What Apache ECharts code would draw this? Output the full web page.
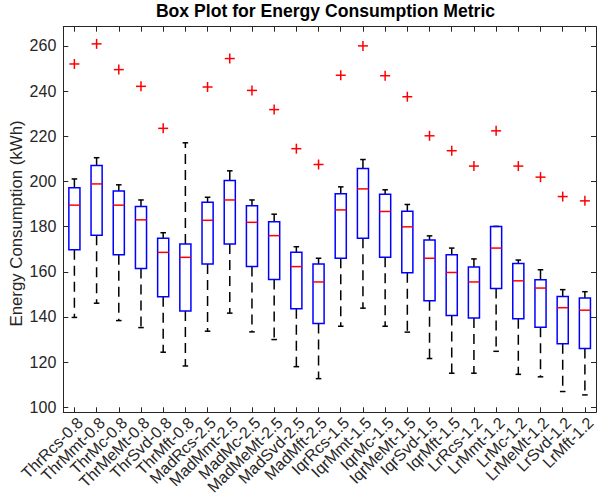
<!DOCTYPE html>
<html><head><meta charset="utf-8">
<script src="https://cdn.jsdelivr.net/npm/echarts@6/dist/echarts.min.js"></script>
<style>html,body{margin:0;padding:0;background:#fff}#c{width:597px;height:499px}</style>
</head><body><div id="c"></div>
<script>
const categories = ['ThrRcs-0.8','ThrMmt-0.8','ThrMc-0.8','ThrMeMt-0.8','ThrSvd-0.8','ThrMft-0.8','MadRcs-2.5','MadMmt-2.5','MadMc-2.5','MadMeMt-2.5','MadSvd-2.5','MadMft-2.5','IqrRcs-1.5','IqrMmt-1.5','IqrMc-1.5','IqrMeMt-1.5','IqrSvd-1.5','IqrMft-1.5','LrRcs-1.2','LrMmt-1.2','LrMc-1.2','LrMeMt-1.2','LrSvd-1.2','LrMft-1.2'];
const lowerWhisker = [139.8,146.1,138.4,135.3,124.4,118.3,133.7,141.7,133.4,130.0,118.0,112.7,135.9,143.9,135.9,133.3,121.6,115.1,115.1,124.8,114.6,113.5,107.0,105.5];
const q1 = [169.8,176.2,167.6,161.5,148.9,142.6,163.4,172.3,162.3,156.6,143.6,137.1,166.0,174.8,166.4,159.6,147.2,140.7,139.6,152.6,139.2,135.5,128.1,126.0];
const median = [189.5,198.9,189.5,183.0,168.6,166.4,182.8,191.8,181.9,176.0,162.3,155.5,187.4,196.7,186.7,179.9,166.0,159.7,155.5,170.5,156.0,152.8,144.1,143.0];
const q3 = [197.2,207.1,195.8,188.9,174.8,172.3,190.8,200.4,189.2,182.2,168.6,163.4,194.5,205.7,194.3,186.8,174.1,167.6,162.1,180.1,163.7,156.5,149.1,148.4];
const upperWhisker = [201.1,210.5,198.5,191.8,177.3,217.1,193.0,204.7,191.8,185.5,171.1,166.0,197.6,209.7,196.3,189.8,175.9,170.5,165.7,180.1,165.2,160.9,152.1,151.2];
const outliers = [252.0,260.9,249.5,242.1,223.5,null,241.8,254.4,240.3,231.8,214.5,207.5,247.0,260.0,246.8,237.5,220.2,213.6,206.8,222.4,206.8,201.9,193.3,191.4];
const yTicks = [100,120,140,160,180,200,220,240,260];

const AX = '#262626';
const FONT = 'Liberation Sans, Arial, Helvetica, sans-serif';
const Y_MIN = 97.8, Y_MAX = 268.5;

const boxData = categories.map((c, i) => [i, lowerWhisker[i], q1[i], median[i], q3[i], upperWhisker[i]]);
const outData = [];
outliers.forEach((v, i) => { if (v !== null) outData.push([i, v]); });

function renderBox(params, api) {
  const i = api.value(0);
  const pLo = api.coord([i, api.value(1)]);
  const pQ1 = api.coord([i, api.value(2)]);
  const pMed = api.coord([i, api.value(3)]);
  const pQ3 = api.coord([i, api.value(4)]);
  const pHi = api.coord([i, api.value(5)]);
  const bw = api.size([1, 0])[0];
  const hb = bw * 0.25, hc = bw * 0.125;
  const x = pLo[0];
  const dash = {stroke: '#000', lineWidth: 1.5, lineDash: [10, 6], fill: null};
  const solid = {stroke: '#000', lineWidth: 1.5, fill: null};
  return {
    type: 'group',
    children: [
      {type: 'line', shape: {x1: x, y1: pQ3[1], x2: x, y2: pHi[1]}, style: dash},
      {type: 'line', shape: {x1: x, y1: pQ1[1], x2: x, y2: pLo[1]}, style: dash},
      {type: 'line', shape: {x1: x - hc, y1: pHi[1], x2: x + hc, y2: pHi[1]}, style: solid},
      {type: 'line', shape: {x1: x - hc, y1: pLo[1], x2: x + hc, y2: pLo[1]}, style: solid},
      {type: 'rect', shape: {x: x - hb, y: pQ3[1], width: 2 * hb, height: pQ1[1] - pQ3[1]}, style: {fill: 'none', stroke: '#0000ff', lineWidth: 1.5}},
      {type: 'line', shape: {x1: x - hb, y1: pMed[1], x2: x + hb, y2: pMed[1]}, style: {stroke: '#ff0000', lineWidth: 1.5}}
    ]
  };
}
function renderOut(params, api) {
  const p = api.coord([api.value(0), api.value(1)]);
  const s = 5;
  const st = {stroke: '#ff0000', lineWidth: 1.5};
  return {
    type: 'group',
    children: [
      {type: 'line', shape: {x1: p[0] - s, y1: p[1], x2: p[0] + s, y2: p[1]}, style: st},
      {type: 'line', shape: {x1: p[0], y1: p[1] - s, x2: p[0], y2: p[1] + s}, style: st}
    ]
  };
}

const chart = echarts.init(document.getElementById('c'), null, {renderer: 'svg'});
const yCommon = {
  type: 'value', min: Y_MIN, max: Y_MAX, splitNumber: 8,
  splitLine: {show: false},
  axisLine: {show: true, lineStyle: {color: AX, width: 1}},
  axisTick: {show: true, inside: true, length: 5, lineStyle: {color: AX, width: 1}}
};
chart.setOption({
  animation: false,
  backgroundColor: '#fff',
  title: {
    text: 'Box Plot for Energy Consumption Metric',
    left: 325.5, top: 2, textAlign: 'center', padding: 0,
    textStyle: {fontFamily: FONT, fontSize: 17.6, fontWeight: 'bold', color: '#000'}
  },
  grid: {left: 63.3, right: 1, top: 26.7, bottom: 86.7, containLabel: false, outerBoundsMode: 'none'},
  xAxis: [{
    type: 'category', data: categories, position: 'bottom', boundaryGap: true,
    axisLine: {show: true, lineStyle: {color: AX, width: 1}},
    axisTick: {show: true, inside: true, length: 5, alignWithLabel: true, interval: 0, lineStyle: {color: AX, width: 1}},
    axisLabel: {interval: 0, rotate: 45, align: 'right', verticalAlign: 'top', margin: 2,
      fontFamily: FONT, fontSize: 16, color: AX},
    splitLine: {show: false}
  }, {
    type: 'category', data: categories, position: 'top', boundaryGap: true,
    axisLine: {show: true, lineStyle: {color: AX, width: 1}},
    axisTick: {show: true, inside: true, length: 5, alignWithLabel: true, interval: 0, lineStyle: {color: AX, width: 1}},
    axisLabel: {show: false},
    splitLine: {show: false}
  }],
  yAxis: [Object.assign({}, yCommon, {
    position: 'left',
    name: 'Energy Consumption (kWh)', nameLocation: 'middle', nameGap: 38, nameMoveOverlap: false,
    nameTextStyle: {fontFamily: FONT, fontSize: 16.8, color: AX, padding: [0, 8, 0, 0]},
    axisLabel: {fontFamily: FONT, fontSize: 16, color: AX, margin: 7,
      formatter: v => (yTicks.indexOf(Math.round(v * 1000) / 1000) >= 0 ? String(Math.round(v)) : '')}
  }), Object.assign({}, yCommon, {
    position: 'right', axisLabel: {show: false}
  })],
  series: [{
    type: 'custom', name: 'box', xAxisIndex: 0, yAxisIndex: 0,
    renderItem: renderBox, data: boxData, encode: {x: 0, y: [1, 2, 3, 4, 5]}, z: 2
  }, {
    type: 'custom', name: 'outliers', xAxisIndex: 0, yAxisIndex: 0,
    renderItem: renderOut, data: outData, encode: {x: 0, y: 1}, z: 3
  }]
});
</script></body></html>
